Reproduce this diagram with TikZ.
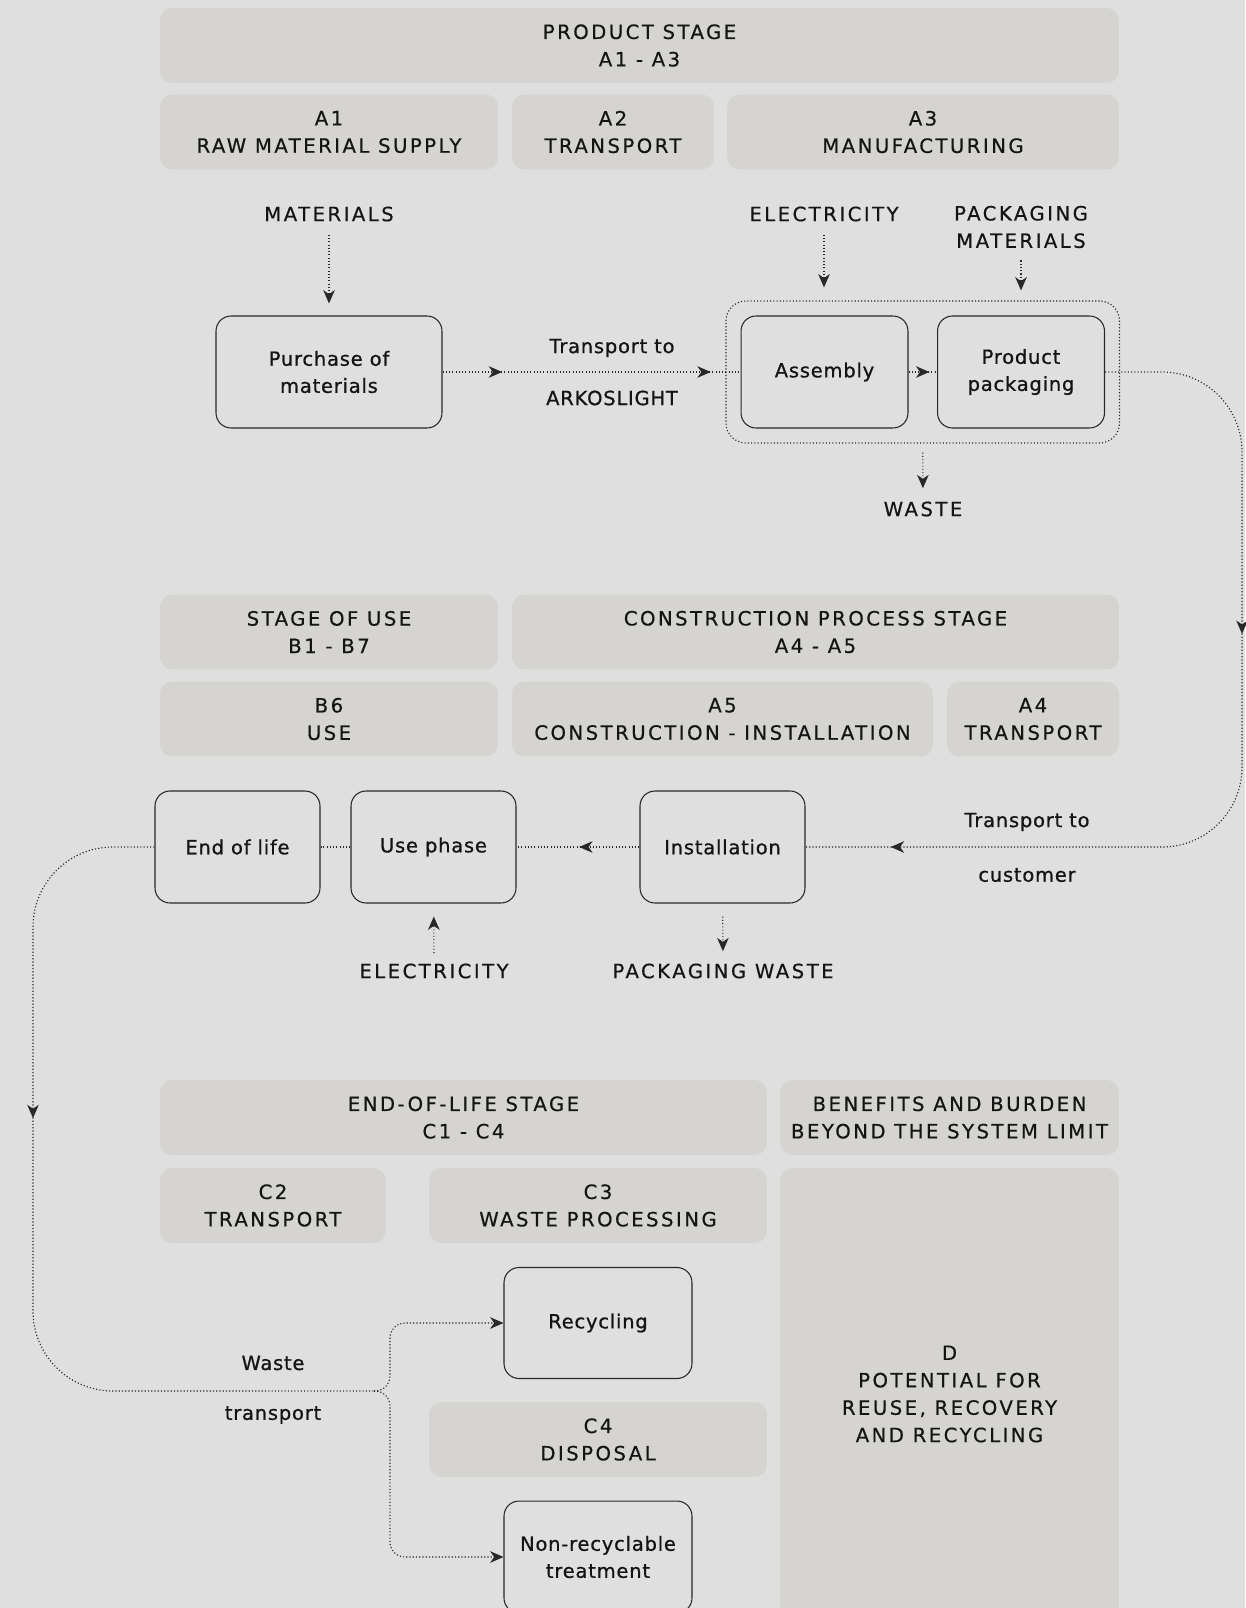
\documentclass[tikz,border=0pt]{standalone}
\usepackage{fontspec}
\setmainfont{DejaVu Sans}
\newfontfamily\hdfont[LetterSpace=12.5,FakeBold=0.5]{DejaVu Sans}
\newfontfamily\lcfont[LetterSpace=4,FakeBold=0.8]{DejaVu Sans}
\usetikzlibrary{arrows.meta,decorations.markings,fit}
\definecolor{pagebg}{RGB}{223,223,223}
\definecolor{headfill}{RGB}{213,212,208}
\definecolor{inkgray}{RGB}{20,20,20}
\definecolor{linegray}{RGB}{40,40,40}

\begin{document}
\begin{tikzpicture}[x=0.02cm, y=-0.02cm,
  every node/.style={text=inkgray},
  head/.style={fill=headfill, draw=none, rounded corners=0.25cm, minimum height=1.5cm, align=center, inner sep=0pt, font=\hdfont\fontsize{11.2}{15.6}\selectfont},
  proc/.style={draw=linegray, line width=0.6pt, rounded corners=0.3cm, minimum width=3.3cm, minimum height=2.24cm, align=center, font=\lcfont\fontsize{11.1}{15.4}\selectfont},
  caplabel/.style={align=center, inner sep=0pt, font=\hdfont\fontsize{11.2}{15.6}\selectfont},
  edgelabel/.style={inner sep=0pt, font=\lcfont\fontsize{11.1}{15.4}\selectfont},
  dotline/.style={draw=linegray, line width=0.65pt, dash pattern=on 0.65pt off 1.2pt},
  flowtip/.tip={Stealth[length=7.6pt,width=6.6pt,inset=2.3pt]},
  flow/.style={dotline, -{flowtip}},
  tipat/.style={postaction={decorate, decoration={markings, mark=at position #1 with {\arrow{flowtip}}}}},
  grpbox/.style={dotline, rounded corners=0.4cm, inner sep=0.29cm}]

  \fill[pagebg] (0,0) rectangle (1245,1608);
  \useasboundingbox (0,0) rectangle (1245,1608);

  \node[head, minimum width=19.18cm] (hdProduct) at (639.5,45.5) {PRODUCT STAGE\\A1 - A3};
  \node[head, minimum width=6.76cm] (hdA1) at (329,132) {A1\\RAW MATERIAL SUPPLY};
  \node[head, minimum width=4.04cm] (hdA2) at (613,132) {A2\\TRANSPORT};
  \node[head, minimum width=7.84cm] (hdA3) at (923,132) {A3\\MANUFACTURING};

  \node[head, minimum width=6.76cm] (hdUse) at (329,632) {STAGE OF USE\\B1 - B7};
  \node[head, minimum width=12.14cm] (hdConstr) at (815.5,632) {CONSTRUCTION PROCESS STAGE\\A4 - A5};
  \node[head, minimum width=6.76cm] (hdB6) at (329,719) {B6\\USE};
  \node[head, minimum width=8.42cm] (hdA5) at (722.5,719) {A5\\CONSTRUCTION - INSTALLATION};
  \node[head, minimum width=3.44cm] (hdA4) at (1033,719) {A4\\TRANSPORT};

  \node[head, minimum width=12.14cm] (hdEol) at (463.5,1117.5) {END-OF-LIFE STAGE\\C1 - C4};
  \node[head, minimum width=6.78cm] (hdBenefit) at (949.5,1117.5) {BENEFITS AND BURDEN\\BEYOND THE SYSTEM LIMIT};
  \node[head, minimum width=4.52cm] (hdC2) at (273,1205.5) {C2\\TRANSPORT};
  \node[head, minimum width=6.76cm] (hdC3) at (598,1205.5) {C3\\WASTE PROCESSING};
  \node[head, minimum width=6.76cm] (hdC4) at (598,1439.5) {C4\\DISPOSAL};
  \node[head, minimum width=6.78cm, minimum height=9.04cm] (hdD) at (949.5,1394) {D\\POTENTIAL FOR\\REUSE, RECOVERY\\AND RECYCLING};

  \node[proc, minimum width=4.52cm] (purch) at (329,372) {Purchase of\\materials};
  \node[proc, minimum width=3.34cm] (asm) at (824.5,372) {Assembly};
  \node[proc, minimum width=3.34cm] (pack) at (1021,372) {Product\\packaging};
  \node[grpbox, fit=(asm)(pack)] (grp) {};

  \node[proc] (eol) at (237.5,847) {End of life};
  \node[proc] (usep) at (433.5,847) {Use phase};
  \node[proc] (inst) at (722.5,847) {Installation};

  \node[proc, minimum width=3.76cm, minimum height=2.22cm] (recyc) at (598,1323) {Recycling};
  \node[proc, minimum width=3.76cm] (nonrec) at (598,1557) {Non-recyclable\\treatment};

  \node[caplabel] (matLbl) at (329,214) {MATERIALS};
  \node[caplabel] (elecLblA) at (824,214) {ELECTRICITY};
  \node[caplabel] (pkmatLbl) at (1021,227) {PACKAGING\\MATERIALS};
  \node[caplabel] (wasteLbl) at (923,509) {WASTE};
  \node[caplabel] (elecLblB) at (434,971) {ELECTRICITY};
  \node[caplabel] (pkwasteLbl) at (723,971) {PACKAGING WASTE};

  \node[edgelabel] (trArkA) at (612,348) {Transport to};
  \node[edgelabel] (trArkB) at (612,398) {ARKOSLIGHT};
  \node[edgelabel] (trCustA) at (1027,822) {Transport to};
  \node[edgelabel] (trCustB) at (1027,875) {customer};
  \node[edgelabel] (wasteTrA) at (273,1363) {Waste};
  \node[edgelabel] (wasteTrB) at (273,1415) {transport};

  \draw[flow, shorten <=0.26cm, shorten >=0.24cm] (matLbl) -- (purch);
  \draw[flow, shorten <=0.26cm, shorten >=0.26cm] (elecLblA) -- (elecLblA |- grp.north);
  \draw[flow, shorten <=0.24cm, shorten >=0.2cm] (pkmatLbl) -- (pkmatLbl |- grp.north);
  \draw[flow, shorten <=0.18cm, shorten >=0.26cm] (grp.south) -- (wasteLbl);
  \draw[flow, shorten <=0.2cm, shorten >=0.26cm] (elecLblB) -- (usep);
  \draw[flow, shorten <=0.26cm, shorten >=0.24cm] (inst) -- (pkwasteLbl);

  \draw[dotline, tipat=0.2, tipat=0.9] (purch) -- (asm);
  \draw[dotline, tipat=0.73] (asm) -- (pack);

  \coordinate (custA) at (1242,372);
  \coordinate (custB) at (1242,847);
  \draw[dotline, rounded corners=1.6cm, tipat=0.372, tipat=0.913] (pack.east) -- (custA) -- (custB) -- (inst.east);

  \draw[dotline, tipat=0.49] (inst) -- (usep);
  \draw[dotline] (usep) -- (eol);

  \coordinate (eolA) at (33,847);
  \coordinate (eolB) at (33,1391);
  \coordinate (split) at (374,1391);
  \coordinate (fork) at (390,1391);
  \draw[dotline, rounded corners=1.6cm, tipat=0.382] (eol.west) -- (eolA) -- (eolB) -- (split);
  \draw[flow, rounded corners=0.3cm] (split) -- (fork) |- (recyc);
  \draw[flow, rounded corners=0.3cm] (split) -- (fork) |- (nonrec);
\end{tikzpicture}
\end{document}
